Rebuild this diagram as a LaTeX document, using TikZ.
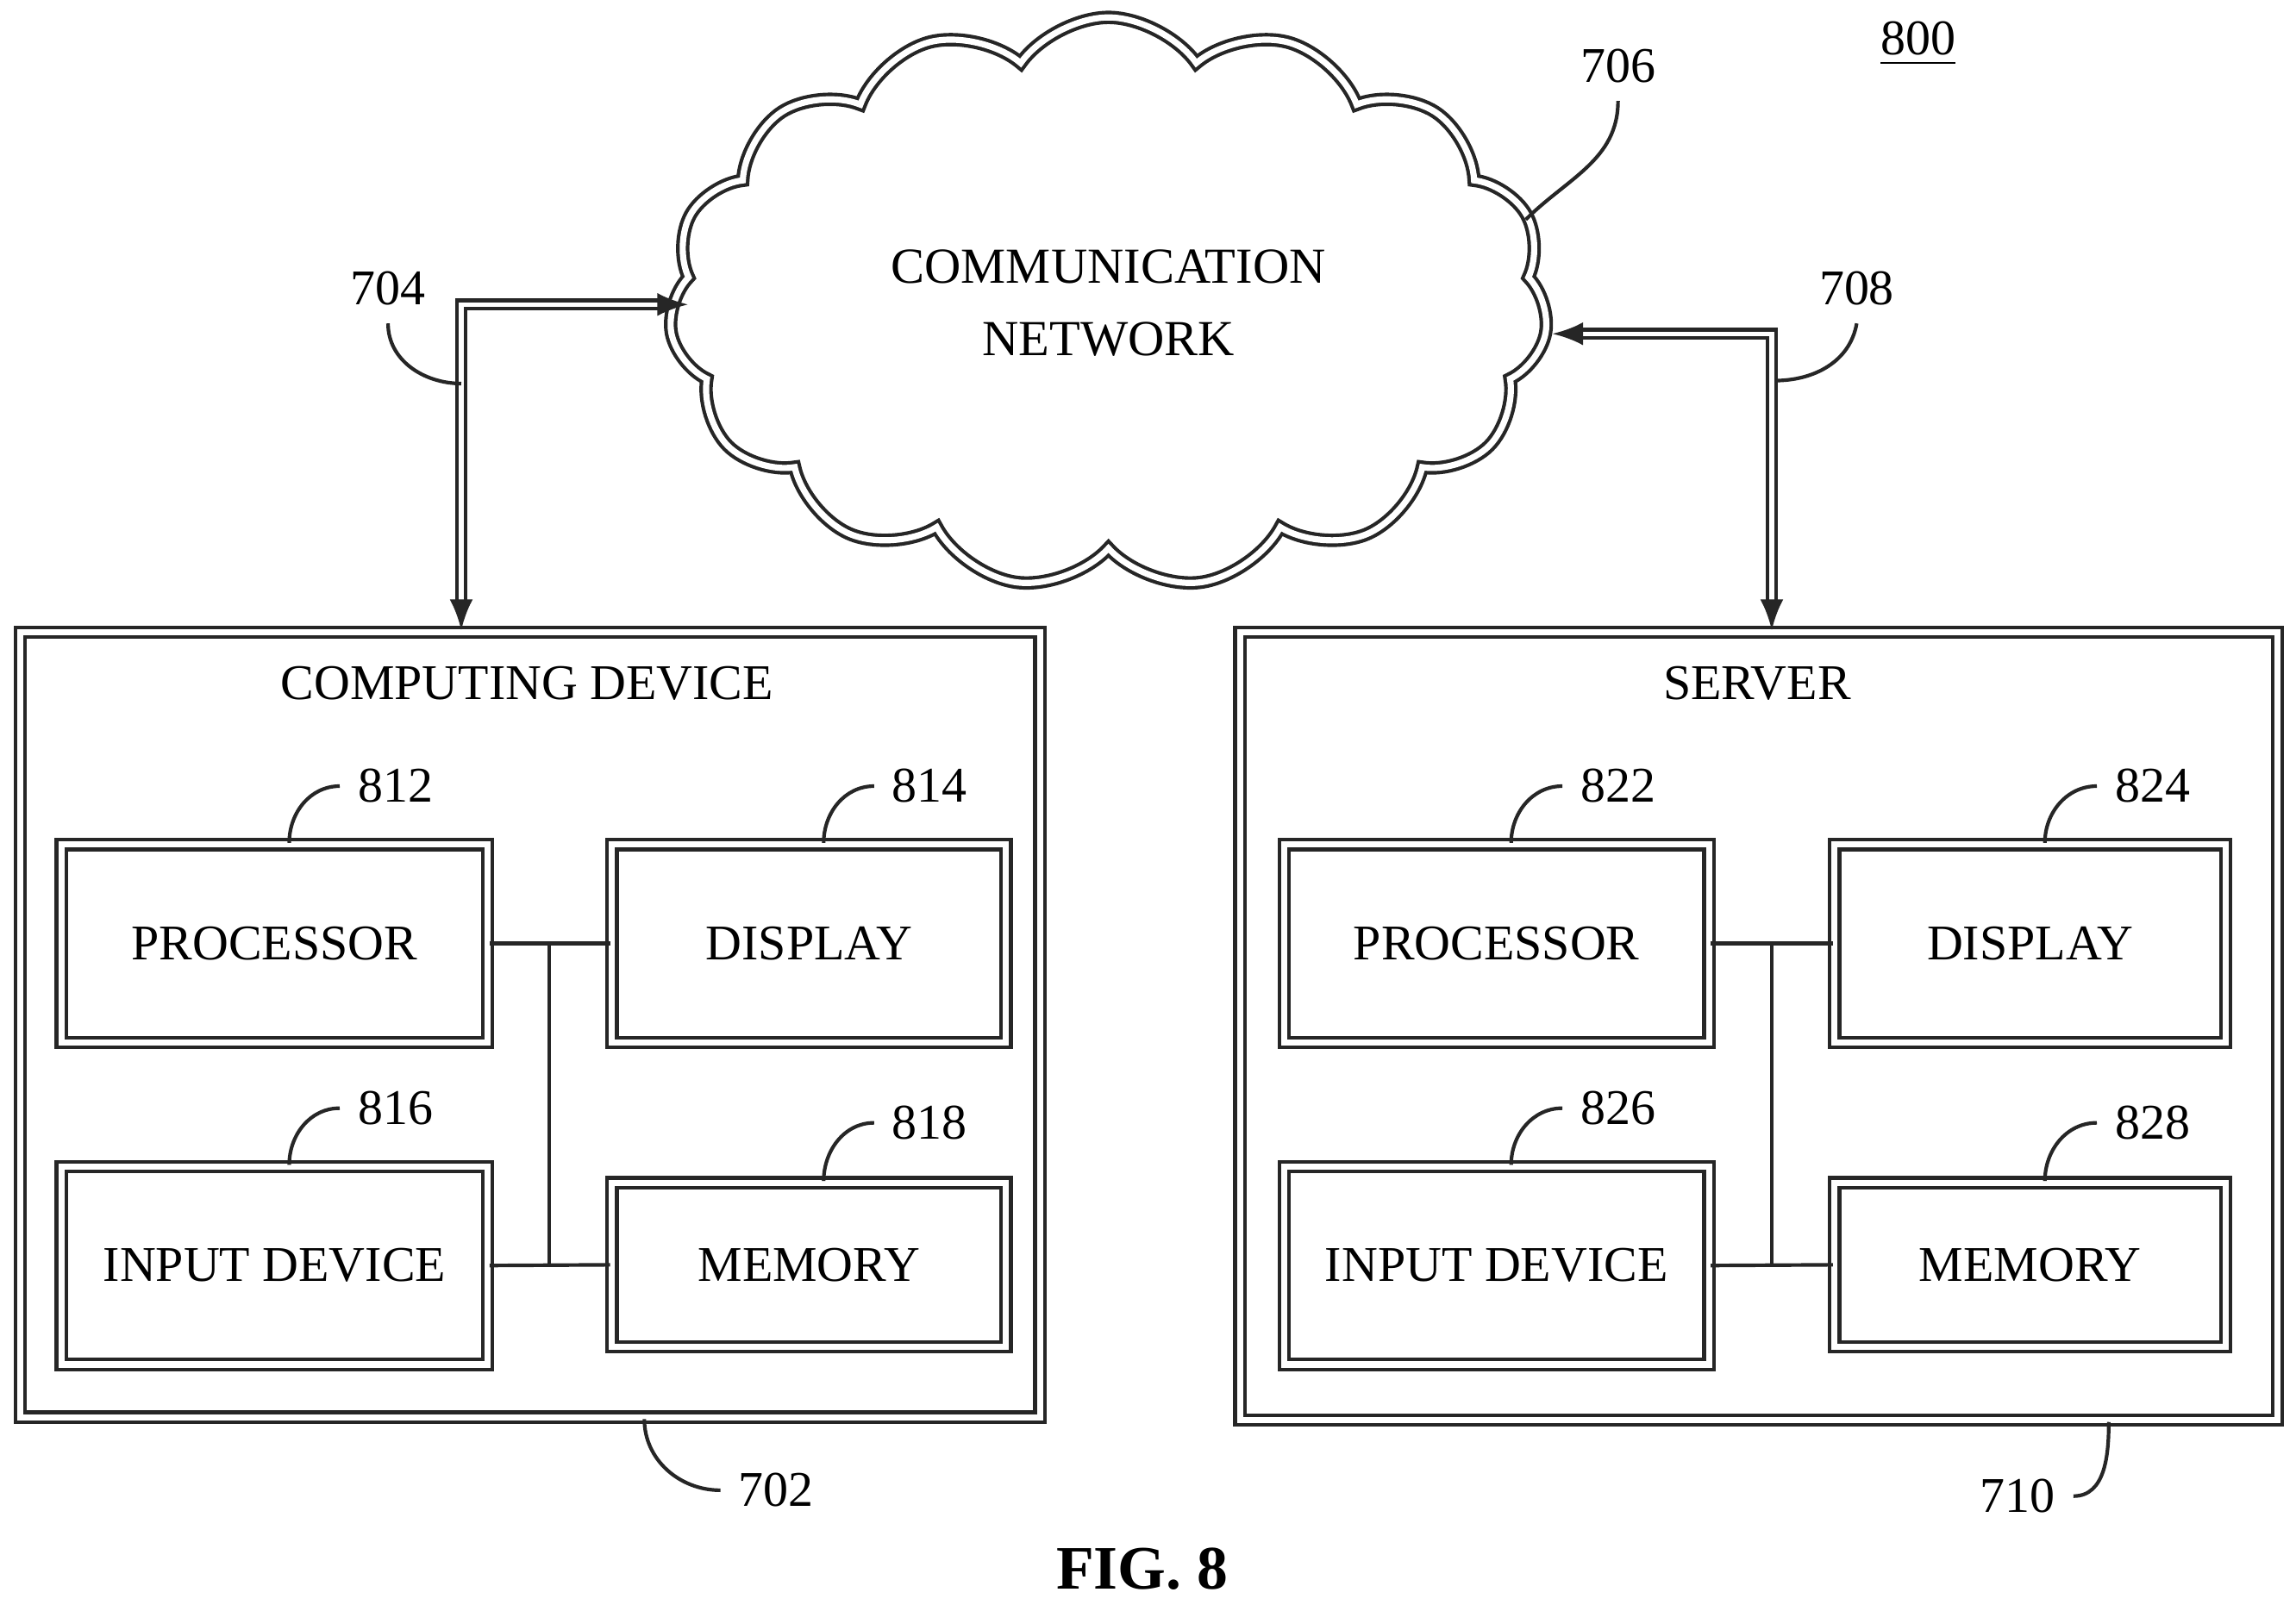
\documentclass[tikz,border=0pt]{standalone}
\usepackage{fontspec}
\setmainfont{Liberation Serif}
\usetikzlibrary{shapes.symbols,arrows.meta,positioning}
\tikzset{
  box/.style={draw=black!85, double=white, double distance=1.2pt, line width=0.7pt},
  part/.style={box, minimum height=1.35cm, font=\fontsize{9.7}{12}\selectfont},
  num/.style={font=\fontsize{9.7}{12}\selectfont},
  lead/.style={draw=black!85, line width=0.7pt},
  arr/.style={lead, double=white, double distance=0.9pt, {Latex[length=6pt]}-{Latex[length=6pt]}}
}
\begin{document}
\begin{tikzpicture}[x=0.01cm, y=-0.01cm]
\useasboundingbox (0,0) rectangle (1568,1100);

% network
\node[cloud, box, cloud puffs=15, cloud puff arc=110, aspect=1.55, minimum width=6cm, minimum height=3.9cm,
      align=center, font=\fontsize{9.8}{14}\selectfont] (net) at (757,207) {COMMUNICATION\\NETWORK};
\node[num] (n706) at (1105,45) {706};
\coordinate (c706) at (1042,150);
\draw[lead] (c706) to[out=45,in=-90] (n706.south);
\node[num] at (1310,30) {\underline{800}};

% computing device
\node[box, minimum width=6.96cm, minimum height=5.36cm] (lbox) at (362,700) {};
\node[font=\fontsize{9.7}{12}\selectfont] (ltitle) at (360,467) {COMPUTING DEVICE};
\node[part, minimum width=2.91cm] (lproc) at (187.5,644.5) {PROCESSOR};
\node[part, minimum width=2.69cm] (ldisp) at (552.5,644.5) {DISPLAY};
\node[part, minimum width=2.91cm] (linp) at (187.5,864.5) {INPUT DEVICE};
\node[part, minimum width=2.69cm, minimum height=1.12cm] (lmem) at (552.5,864) {MEMORY};
\coordinate (lbus) at (375,0);
\draw[lead] (lproc.east) -- (ldisp.west);
\draw[lead] (linp.east) -- (lmem.west);
\draw[lead] (lproc.east -| lbus) -- (linp.east -| lbus);

\node[num] (n812) at (270,537) {812};
\node[num] (n814) at (635,537) {814};
\node[num] (n816) at (270,757) {816};
\node[num] (n818) at (635,767) {818};
\draw[lead] ([xshift=0.1cm]lproc.north) to[out=90,in=180] (n812.west);
\draw[lead] ([xshift=0.1cm]ldisp.north) to[out=90,in=180] (n814.west);
\draw[lead] ([xshift=0.1cm]linp.north) to[out=90,in=180] (n816.west);
\draw[lead] ([xshift=0.1cm]lmem.north) to[out=90,in=180] (n818.west);
\node[num] (n702) at (530,1018) {702};
\draw[lead] ([xshift=0.78cm]lbox.south) to[out=-90,in=180] (n702.west);

% server
\node[box, minimum width=7.08cm, minimum height=5.38cm] (rbox) at (1201,701) {};
\node[font=\fontsize{9.7}{12}\selectfont] (rtitle) at (1200,467) {SERVER};
\node[part, minimum width=2.9cm] (rproc) at (1022,644.5) {PROCESSOR};
\node[part, minimum width=2.67cm] (rdisp) at (1386.5,644.5) {DISPLAY};
\node[part, minimum width=2.9cm] (rinp) at (1022,864.5) {INPUT DEVICE};
\node[part, minimum width=2.67cm, minimum height=1.12cm] (rmem) at (1386.5,864) {MEMORY};
\coordinate (rbus) at (1210,0);
\draw[lead] (rproc.east) -- (rdisp.west);
\draw[lead] (rinp.east) -- (rmem.west);
\draw[lead] (rproc.east -| rbus) -- (rinp.east -| rbus);

\node[num] (n822) at (1105,537) {822};
\node[num] (n824) at (1470,537) {824};
\node[num] (n826) at (1105,757) {826};
\node[num] (n828) at (1470,767) {828};
\draw[lead] ([xshift=0.1cm]rproc.north) to[out=90,in=180] (n822.west);
\draw[lead] ([xshift=0.1cm]rdisp.north) to[out=90,in=180] (n824.west);
\draw[lead] ([xshift=0.1cm]rinp.north) to[out=90,in=180] (n826.west);
\draw[lead] ([xshift=0.1cm]rmem.north) to[out=90,in=180] (n828.west);
\node[num] (n710) at (1378,1022) {710};
\draw[lead] ([xshift=2.39cm]rbox.south) to[out=-90,in=0] (n710.east);

% links
\coordinate (c704) at (470,208);
\coordinate (c708) at (1060,228);
\coordinate (lup) at (315,0);
\coordinate (rup) at (1210,0);
\draw[arr] (c704) -| (lbox.north -| lup);
\draw[arr] (c708) -| (rbox.north -| rup);
\node[num] (n704) at (265,197) {704};
\node[num] (n708) at (1268,197) {708};
\coordinate (t704) at (315,262);
\coordinate (t708) at (1212,260);
\draw[lead] (t704) to[out=180,in=-90] (n704.south);
\draw[lead] (t708) to[out=0,in=-100] (n708.south);

\node[font=\bfseries\fontsize{12}{14}\selectfont] (fig) at (780,1072) {FIG. 8};
\end{tikzpicture}
\end{document}
